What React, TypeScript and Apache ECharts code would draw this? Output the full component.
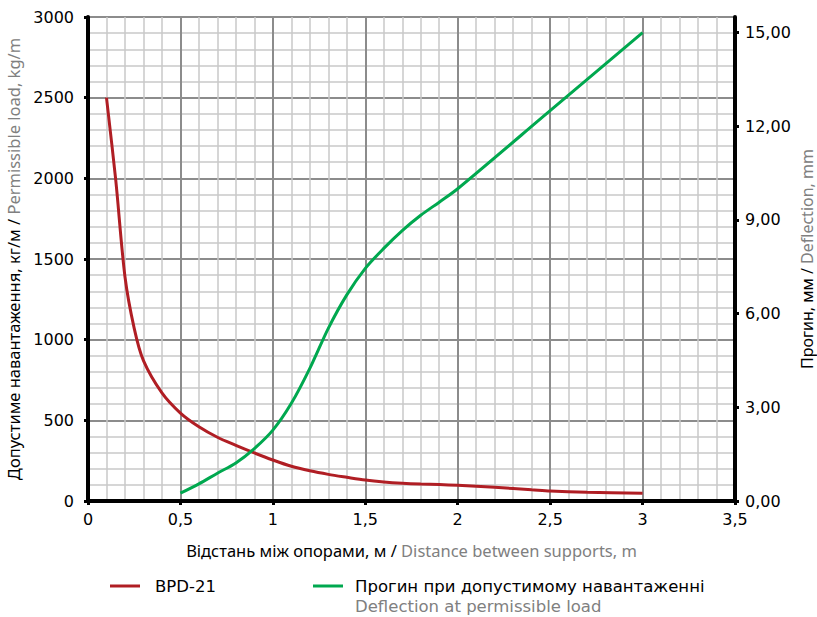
import React, { useEffect, useRef } from "react";
import * as echarts from "echarts";

const redX = [0.1, 0.15, 0.2, 0.25, 0.3, 0.4, 0.5, 0.6, 0.7, 0.8, 0.9, 1.0, 1.1, 1.2, 1.3, 1.4, 1.5, 1.6, 1.7, 1.8, 1.9, 2.0, 2.2, 2.4, 2.5, 2.7, 3.0];
const redLoad = [2500, 1990, 1390, 1070, 870, 670, 545, 460, 395, 345, 298, 254, 215, 187, 165, 147, 130, 118, 110, 105, 102, 97, 85, 70, 62, 54, 48];

const greenX = [0.5, 0.6, 0.7, 0.8, 0.9, 1.0, 1.1, 1.2, 1.3, 1.4, 1.5, 1.6, 1.7, 1.8, 1.9, 2.0, 2.5, 3.0];
const greenDefl = [0.25, 0.55, 0.89, 1.22, 1.68, 2.27, 3.13, 4.25, 5.53, 6.6, 7.45, 8.09, 8.66, 9.15, 9.57, 10.0, 12.5, 15.0];

const redName = "BPD-21";
const greenName = "Прогин при допустимому навантаженні";
const greenNameEn = "Deflection at permissible load";
const xTitleUa = "Відстань між опорами, м / ";
const xTitleEn = "Distance between supports, m";
const yTitleUa = "Допустиме навантаження, кг/м / ";
const yTitleEn = "Permissible load, kg/m";
const y2TitleUa = "Прогин, мм / ";
const y2TitleEn = "Deflection, mm";

const RED = "#b01e24";
const GREEN = "#00a84f";
const GRAY = "#808080";
const TICK_FONT = "DejaVu Sans";
const TITLE_FONT = "Noto Sans";

const fmtComma = (v: number, d: number) => v.toFixed(d).replace(".", ",");

export default function App() {
  const ref = useRef<HTMLDivElement>(null);
  useEffect(() => {
    if (!ref.current) return;
    const chart = echarts.init(ref.current, null, { renderer: "svg" });
    const splitMajor = { show: true, lineStyle: { color: "#8c8c8c", width: 2 } };
    const splitMinor = { show: true, lineStyle: { color: "#c9c9c9", width: 1.5 } };
    const titleRich = (size: number) => ({
      a: { color: "#000", fontFamily: TITLE_FONT, fontSize: size, lineHeight: 18 },
      b: { color: GRAY, fontFamily: TITLE_FONT, fontSize: size, lineHeight: 18 },
    });
    chart.setOption({
      animation: false,
      backgroundColor: "#fff",
      grid: { left: 88, right: 82, top: 17, bottom: 116, containLabel: false, outerBoundsMode: "none" },
      xAxis: {
        type: "value",
        min: 0,
        max: 3.5,
        interval: 0.5,
        axisLine: { show: true, onZero: false, lineStyle: { color: "#000", width: 4 } },
        axisTick: { show: true, length: 4, lineStyle: { color: "#000", width: 3 } },
        minorTick: { show: false, splitNumber: 5 },
        splitLine: splitMajor,
        minorSplitLine: splitMinor,
        axisLabel: {
          color: "#000",
          fontFamily: TICK_FONT,
          fontSize: 16,
          margin: 10,
          formatter: (v: number) => (Number.isInteger(v) ? String(v) : fmtComma(v, 1)),
        },
        name: `{a|${xTitleUa}}{b|${xTitleEn}}`,
        nameLocation: "middle",
        nameGap: 40,
        nameTextStyle: { rich: titleRich(16.5) },
      },
      yAxis: [
        {
          type: "value",
          min: 0,
          max: 3000,
          interval: 500,
          axisLine: { show: true, lineStyle: { color: "#000", width: 4 } },
          axisTick: { show: true, length: 4, lineStyle: { color: "#000", width: 3 } },
          minorTick: { show: false, splitNumber: 5 },
          splitLine: splitMajor,
          minorSplitLine: splitMinor,
          axisLabel: {
            color: "#000",
            fontFamily: TICK_FONT,
            fontSize: 16,
            margin: 14,
            formatter: (v: number) => String(v),
          },
          name: `{a|${yTitleUa}}{b|${yTitleEn}}`,
          nameLocation: "middle",
          nameGap: 66,
          nameTextStyle: { rich: titleRich(16.5) },
        },
        {
          type: "value",
          min: 0,
          max: 15.5,
          interval: 3,
          position: "right",
          axisLine: { show: true, lineStyle: { color: "#000", width: 4 } },
          axisTick: { show: true, length: 4, lineStyle: { color: "#000", width: 3 } },
          splitLine: { show: false },
          axisLabel: {
            color: "#000",
            fontFamily: TICK_FONT,
            fontSize: 16,
            margin: 10,
            showMaxLabel: false,
            formatter: (v: number) => fmtComma(v, 2),
          },
          name: `{a|${y2TitleUa}}{b|${y2TitleEn}}`,
          nameLocation: "middle",
          nameGap: 63,
          nameMoveOverlap: false,
          nameRotate: 90,
          nameTextStyle: { rich: titleRich(16) },
        },
      ],
      series: [
        {
          name: redName,
          type: "line",
          yAxisIndex: 0,
          smooth: 0.3,
          showSymbol: false,
          lineStyle: { color: RED, width: 3 },
          data: redX.map((x, i) => [x, redLoad[i]]),
          z: 3,
        },
        {
          name: greenName,
          type: "line",
          yAxisIndex: 1,
          smooth: 0.3,
          showSymbol: false,
          lineStyle: { color: GREEN, width: 3 },
          data: greenX.map((x, i) => [x, greenDefl[i]]),
          z: 4,
        },
      ],
      graphic: [
        { type: "line", shape: { x1: 110, y1: 586, x2: 140, y2: 586 }, style: { stroke: RED, lineWidth: 3 } },
        {
          type: "text",
          x: 155,
          y: 586,
          style: { text: redName, fill: "#000", font: `16.5px "${TICK_FONT}"`, verticalAlign: "middle" },
        },
        { type: "line", shape: { x1: 313, y1: 586, x2: 343, y2: 586 }, style: { stroke: GREEN, lineWidth: 3 } },
        {
          type: "text",
          x: 355,
          y: 586,
          style: { text: greenName, fill: "#000", font: `16.5px "${TICK_FONT}"`, verticalAlign: "middle" },
        },
        {
          type: "text",
          x: 355,
          y: 606,
          style: { text: greenNameEn, fill: GRAY, font: `16.5px "${TICK_FONT}"`, verticalAlign: "middle" },
        },
      ],
    });
    return () => chart.dispose();
  }, []);
  return <div ref={ref} style={{ position: "fixed", left: 0, top: 0, width: 817, height: 617 }} />;
}
